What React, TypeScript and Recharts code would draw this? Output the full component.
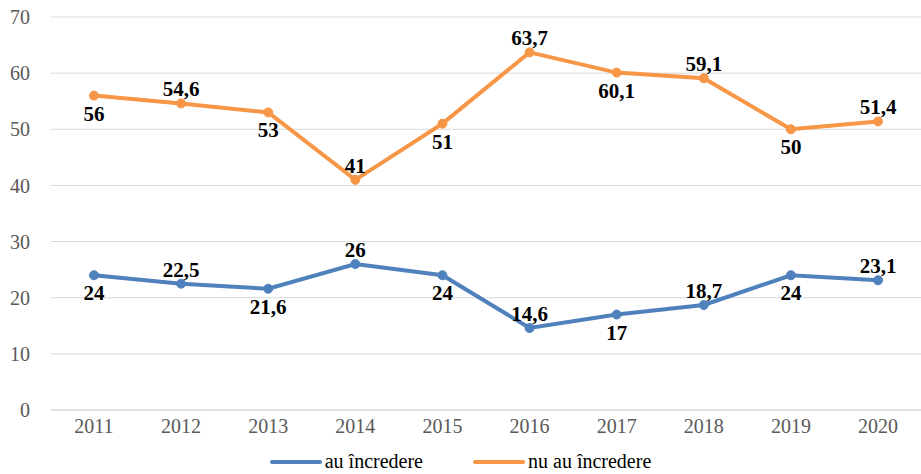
import { LineChart, Line, XAxis, YAxis, CartesianGrid, Legend, LabelList } from "recharts";

const years = ["2011", "2012", "2013", "2014", "2015", "2016", "2017", "2018", "2019", "2020"];
const auIncredere = [24, 22.5, 21.6, 26, 24, 14.6, 17, 18.7, 24, 23.1];
const nuAuIncredere = [56, 54.6, 53, 41, 51, 63.7, 60.1, 59.1, 50, 51.4];
const yTicks = [0, 10, 20, 30, 40, 50, 60, 70];

const BLUE = "#4F81BD";
const ORANGE = "#F79646";
const FONT = "Liberation Serif, DejaVu Serif, serif";

const data = years.map((year, i) => ({
  year,
  au: auIncredere[i],
  nu: nuAuIncredere[i],
}));

// labels alternate below / above the point, like the source
const renderLabel = (props: any) => {
  const { x, y, value, index } = props;
  const below = index % 2 === 0;
  return (
    <text
      x={x}
      y={below ? y + 18 : y - 14}
      textAnchor="middle"
      dominantBaseline="central"
      style={{ fontFamily: FONT, fontWeight: "bold", fontSize: 21 }}
      fill="#000"
    >
      {String(value).replace(".", ",")}
    </text>
  );
};

const renderLegend = () => (
  <div
    style={{
      height: 34,
      display: "flex",
      justifyContent: "center",
      alignItems: "flex-end",
      fontFamily: FONT,
      fontSize: 20,
      color: "#000",
    }}
  >
    <div style={{ display: "flex", alignItems: "center", marginRight: 50, marginBottom: 1 }}>
      <span style={{ display: "inline-block", width: 52, height: 4, borderRadius: 2, background: BLUE, marginRight: 3 }} />
      au încredere
    </div>
    <div style={{ display: "flex", alignItems: "center", marginBottom: 1 }}>
      <span style={{ display: "inline-block", width: 52, height: 4, borderRadius: 2, background: ORANGE, marginRight: 3 }} />
      nu au încredere
    </div>
  </div>
);

const tickStyle = { fill: "#595959", fontSize: 20, fontFamily: FONT, style: { fontFamily: FONT } };

export default function App() {
  return (
    <div style={{ position: "absolute", left: 0, top: 0, background: "#fff", fontFamily: FONT }}>
      <LineChart width={921} height={474} data={data} margin={{ top: 17, right: 0, left: 0, bottom: 0 }}>
        <CartesianGrid vertical={false} stroke="#d9d9d9" />
        <XAxis
          dataKey="year"
          height={30}
          padding={{ left: 43, right: 43 }}
          tickLine={false}
          tickSize={0}
          tickMargin={9}
          axisLine={{ stroke: "#d9d9d9" }}
          tick={tickStyle}
        />
        <YAxis
          width={51}
          domain={[0, 70]}
          ticks={yTicks}
          axisLine={false}
          tickLine={false}
          tickSize={0}
          tickMargin={21}
          tick={tickStyle}
        />
        <Legend verticalAlign="bottom" content={renderLegend} />
        <Line
          dataKey="au"
          stroke={BLUE}
          strokeWidth={4}
          dot={{ r: 4.5, fill: BLUE, stroke: BLUE, strokeWidth: 1 }}
          isAnimationActive={false}
        >
          <LabelList dataKey="au" content={renderLabel} />
        </Line>
        <Line
          dataKey="nu"
          stroke={ORANGE}
          strokeWidth={4}
          dot={{ r: 4.5, fill: ORANGE, stroke: ORANGE, strokeWidth: 1 }}
          isAnimationActive={false}
        >
          <LabelList dataKey="nu" content={renderLabel} />
        </Line>
      </LineChart>
    </div>
  );
}
